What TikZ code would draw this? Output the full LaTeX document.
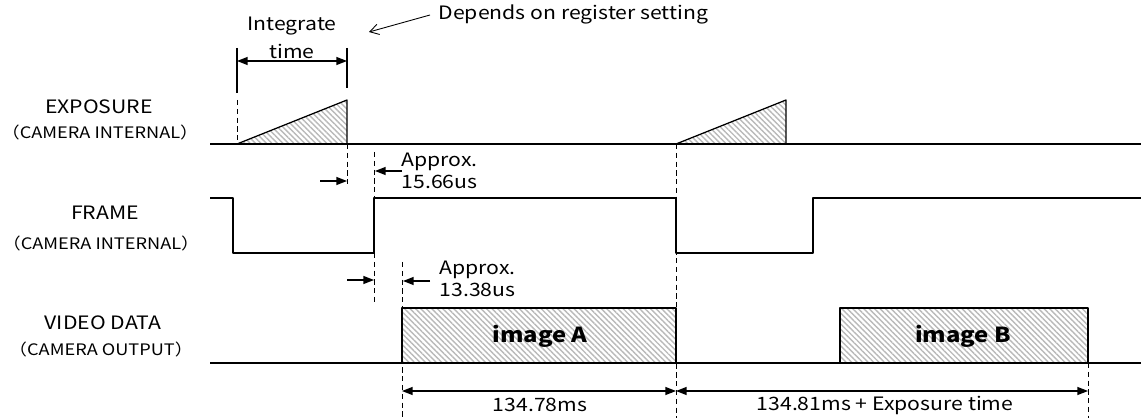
\documentclass[tikz,border=0pt]{standalone}
\usepackage{fontspec}
\setmainfont{Noto Sans CJK JP}[FakeStretch=1.15]
\usetikzlibrary{arrows.meta,patterns.meta}
\tikzset{
	hatch/.style={pattern={Lines[angle=-45,distance=2.2pt,line width=.8pt]},pattern color=gray!55},
	guide/.style={densely dashed,line width=.45pt},
	tick/.style={line width=1.1pt},
	dimarr/.style={{Triangle[length=6pt,width=4.5pt]}-{Triangle[length=6pt,width=4.5pt]}},
	onearr/.style={-{Triangle[length=6pt,width=4.5pt]}},
	lbl/.style={inner sep=0pt,font=\fontsize{10.5}{12}\selectfont},
	sublbl/.style={inner sep=0pt,font=\fontsize{9}{11}\selectfont},
	imglbl/.style={inner sep=0pt,font=\bfseries\fontsize{11.8}{14}\selectfont},
}
\begin{document}
\begin{tikzpicture}[x=.02cm,y=-.02cm,line join=round,line width=.7pt]
			\useasboundingbox (0,0) rectangle (1141,418);
			% exposure row
			\coordinate (E0) at (210,144);
			\coordinate (E1) at (1141,144);
			\coordinate (A) at (237,144);
			\coordinate (B) at (347,100);
			\coordinate (C) at (347,144);
			\coordinate (D) at (676,144);
			\coordinate (F) at (786,100);
			\coordinate (G) at (786,144);
			\draw[hatch] (A)--(B)--(C)--cycle;
			\draw[hatch] (D)--(F)--(G)--cycle;
			\draw (E0)--(E1);
			% frame row
			\draw (210,198)--(233,198)--(233,253)--(374,253)--(374,198)--(676,198)--(676,253)--(813,253)--(813,198)--(1141,198);
			% video row
			\draw[hatch] (402,308) rectangle (676,363);
			\draw[hatch] (840,308) rectangle (1088,363);
			\draw (210,363)--(1141,363);
			\node[imglbl] (imgA) at (540,336) {image A};
			\node[imglbl] (imgB) at (963,336) {image B};
			% guide lines
			\draw[guide] (237,100)--(A) (C)--(347,187);
			\draw[guide] (374,152)--(374,198) (374,253)--(374,303);
			\draw[guide] (402,262)--(402,418);
			\draw[guide] (676,144)--(676,418);
			\draw[guide] (1088,363)--(1088,418);
			% integrate time
			\coordinate (I0) at (237,61);
			\coordinate (I1) at (347,61);
			\draw[tick] (237,48)--(237,93) (347,48)--(347,88);
			\draw[dimarr] (I0)--(I1);
			\node[lbl] (int) at (292,26) {Integrate};
			\node[lbl] (tim) at (292,51) {time};
			\coordinate (R0) at (430,15);
			\coordinate (R1) at (369,32);
			\draw[line width=.5pt,-{Straight Barb[length=5pt,width=6pt]}] (R0)--(R1);
			\node[lbl,anchor=west] (reg) at (438,14) {Depends on register setting};
			% delays
			\draw[onearr] (320,181)--(347,181);
			\draw[onearr] (402,171)--(375,171);
			\node[lbl,anchor=west,align=left,font=\fontsize{10.5}{12.5}\selectfont] (d1) at (401,171) {Approx.\\15.66us};
			\draw[onearr] (347,280)--(374,280);
			\draw[onearr] (430,281)--(403,281);
			\node[lbl,anchor=west,align=left,font=\fontsize{10.5}{12.5}\selectfont] (d2) at (439,279) {Approx.\\13.38us};
			% periods
			\draw[dimarr] (402,391)--(676,391);
			\draw[dimarr] (676,391)--(1088,391);
			\node[lbl] (p1) at (540,405) {134.78ms};
			\node[lbl] (p2) at (885,405) {134.81ms + Exposure time};
			% row labels
			\node[lbl] (ex) at (99,107) {EXPOSURE};
			\node[sublbl] (exs) at (100,132) {（CAMERA INTERNAL）};
			\node[lbl] (fr) at (105,213) {FRAME};
			\node[sublbl] (frs) at (101,243) {（CAMERA INTERNAL）};
			\node[lbl] (vd) at (103,323) {VIDEO DATA};
			\node[sublbl] (vds) at (101,349) {（CAMERA OUTPUT）};
		\end{tikzpicture}
\end{document}
